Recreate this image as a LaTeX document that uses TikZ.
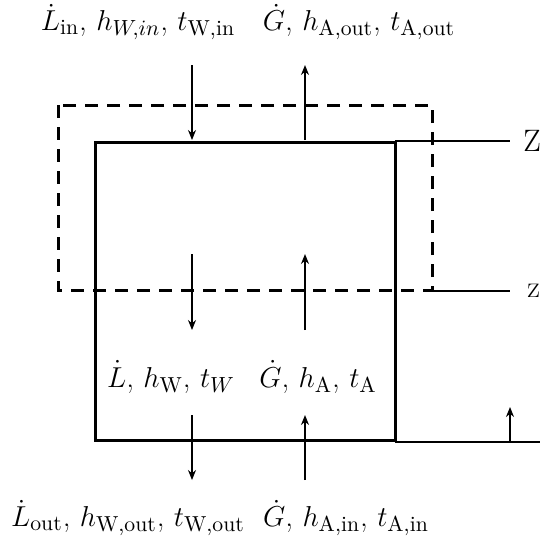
\documentclass[tikz,border=0pt]{standalone}
\usepackage{amsmath}
\usetikzlibrary{positioning, arrows.meta, calc}
\tikzset{
  caja/.style={line width=1.5pt},
  cajadiscont/.style={line width=1.5pt, dash pattern=on 6.5pt off 4.5pt},
  linea/.style={line width=0.7pt},
  flujo/.style={line width=0.7pt, -{Stealth[length=5pt, width=4pt]}},
  etiqueta/.style={font=\fontsize{15.5}{18}\selectfont, inner sep=0pt}
}

\begin{document}
\begin{tikzpicture}[x=0.5pt, y=-0.5pt]
            \useasboundingbox (0,0) rectangle (540,538);

            % Caja del volumen de control (linea continua)
            \coordinate (c1) at (95,142);
            \coordinate (c2) at (395,440);
            \draw[caja] (c1) rectangle (c2);

            % Caja discontinua
            \coordinate (d1) at (58,105);
            \coordinate (d2) at (432,290);
            \draw[cajadiscont] (d1) rectangle (d2);

            % Lineas de altura Z, z y base
            \coordinate (zs) at (395,141);
            \coordinate (ze) at (510,141);
            \coordinate (zzs) at (432,291);
            \coordinate (zze) at (510,291);
            \coordinate (bs) at (395,442);
            \coordinate (be) at (540,442);
            \draw[linea] (zs) -- (ze);
            \draw[linea] (zzs) -- (zze);
            \draw[linea] (bs) -- (be);
            \node[etiqueta, anchor=west] (Z) at (523,141) {Z};
            \node[etiqueta, anchor=west] (zmin) at (527,291) {z};

            % Flecha vertical sobre la base
            \coordinate (h1) at (510,442);
            \coordinate (h2) at (510,407);
            \draw[flujo] (h1) -- (h2);

            % Flechas de agua (bajan) y aire (suben)
            \coordinate (w1) at (192,65);
            \coordinate (w2) at (192,140);
            \coordinate (w3) at (192,254);
            \coordinate (w4) at (192,330);
            \coordinate (w5) at (192,415);
            \coordinate (w6) at (192,480);
            \coordinate (a1) at (305,140);
            \coordinate (a2) at (305,65);
            \coordinate (a3) at (305,330);
            \coordinate (a4) at (305,254);
            \coordinate (a5) at (305,480);
            \coordinate (a6) at (305,415);
            \draw[flujo] (w1) -- (w2);
            \draw[flujo] (w3) -- (w4);
            \draw[flujo] (w5) -- (w6);
            \draw[flujo] (a1) -- (a2);
            \draw[flujo] (a3) -- (a4);
            \draw[flujo] (a5) -- (a6);

            % Textos de entrada y salida
            \node[etiqueta] (Lin) at (138,22) {$\dot{L}_{\text{in}}$, $h_{W,in}$, $t_{\text{W,in}}$};
            \node[etiqueta] (Gout) at (359,22) {$\dot{G}$, $h_{\text{A,out}}$, $t_{\text{A,out}}$};
            \node[etiqueta] (L) at (171,377) {$\dot{L}$, $h_{\text{W}}$, $t_{W}$};
            \node[etiqueta] (G) at (318,377) {$\dot{G}$, $h_{\text{A}}$, $t_{\text{A}}$};
            \node[etiqueta] (Lout) at (128,518) {$\dot{L}_{\text{out}}$, $h_{\text{W,out}}$, $t_{\text{W,out}}$};
            \node[etiqueta] (Gin) at (346,518) {$\dot{G}$, $h_{\text{A,in}}$, $t_{\text{A,in}}$};
\end{tikzpicture}
\end{document}
